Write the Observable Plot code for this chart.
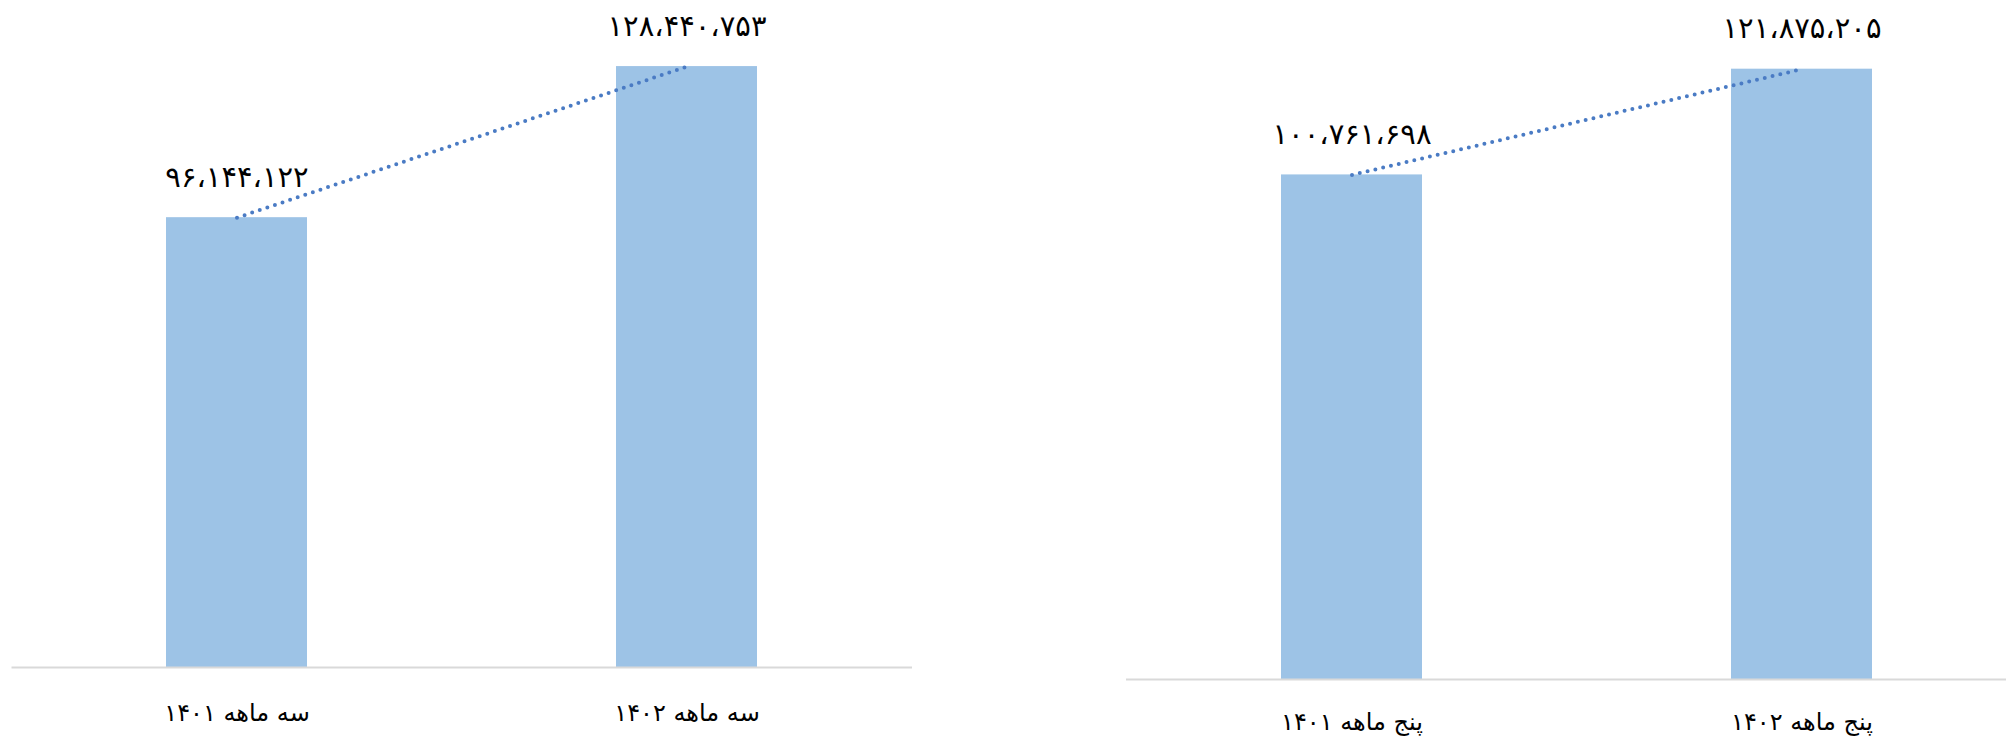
<!DOCTYPE html>
<html>
<head>
<meta charset="utf-8">
<script src="https://cdn.jsdelivr.net/npm/d3@7"></script>
<script src="https://cdn.jsdelivr.net/npm/@observablehq/plot@0.6"></script>
<style>
  html, body { margin: 0; padding: 0; background: #fff; }
  #wrap { position: relative; width: 2006px; height: 737px; overflow: hidden; }
  #left { position: absolute; left: 0; top: 0; }
  #right { position: absolute; left: 1000px; top: 0; }
</style>
</head>
<body>
<div id="wrap"><div id="left"></div><div id="right"></div></div>
<script>
const leftCategories = ["سه ماهه ۱۴۰۱", "سه ماهه ۱۴۰۲"];
const leftValues = [96144122, 128440753];
const rightCategories = ["پنج ماهه ۱۴۰۱", "پنج ماهه ۱۴۰۲"];
const rightValues = [100761698, 121875205];

const faDigits = "۰۱۲۳۴۵۶۷۸۹";
const fmt = v => d3.format(",")(v).replace(/\d/g, c => faDigits[+c]).replace(/,/g, "،");

const FONT = "DejaVu Sans";
const barColor = "#9dc3e6";
const lineColor = "#4a7bc4";

function chart(cats, vals, opts) {
  const data = cats.map((c, i) => ({cat: c, value: vals[i]}));
  return Plot.plot({
    width: opts.width,
    height: 737,
    marginLeft: opts.marginLeft,
    marginRight: opts.marginRight,
    marginTop: opts.marginTop,
    marginBottom: opts.marginBottom,
    style: {fontFamily: FONT, color: "#000", background: "transparent"},
    x: {domain: cats, paddingInner: 0.687, paddingOuter: 0.3435, range: opts.xRange, axis: null, label: null},
    y: {domain: opts.yDomain, axis: null},
    marks: [
      Plot.barY(data, {x: "cat", y: "value", fill: barColor}),
      Plot.ruleY([0], {stroke: "#d9d9d9", strokeWidth: 2}),
      Plot.line(data, {x: "cat", y: "value", stroke: lineColor, strokeWidth: 4,
        strokeDasharray: "0 8", strokeLinecap: "round"}),
      Plot.text(data, {x: "cat", y: "value", text: d => fmt(d.value), dy: -31,
        lineAnchor: "bottom", fontSize: 29, fill: "#000"}),
      Plot.axisX({tickSize: 0, tickPadding: opts.tickPadding, fontSize: 24, fill: "#000", label: null})
    ]
  });
}

document.getElementById("left").appendChild(chart(leftCategories, leftValues, {
  width: 1000, marginLeft: 11.5, marginRight: 88, marginTop: 12, marginBottom: 70,
  yDomain: [0, 140e6], tickPadding: 36
}));

document.getElementById("right").appendChild(chart(rightCategories, rightValues, {
  width: 1006, marginLeft: 126, marginRight: 0, marginTop: 28, marginBottom: 58,
  xRange: [126.3, 1027.3], yDomain: [0, 130e6], tickPadding: 33
}));
</script>
</body>
</html>
